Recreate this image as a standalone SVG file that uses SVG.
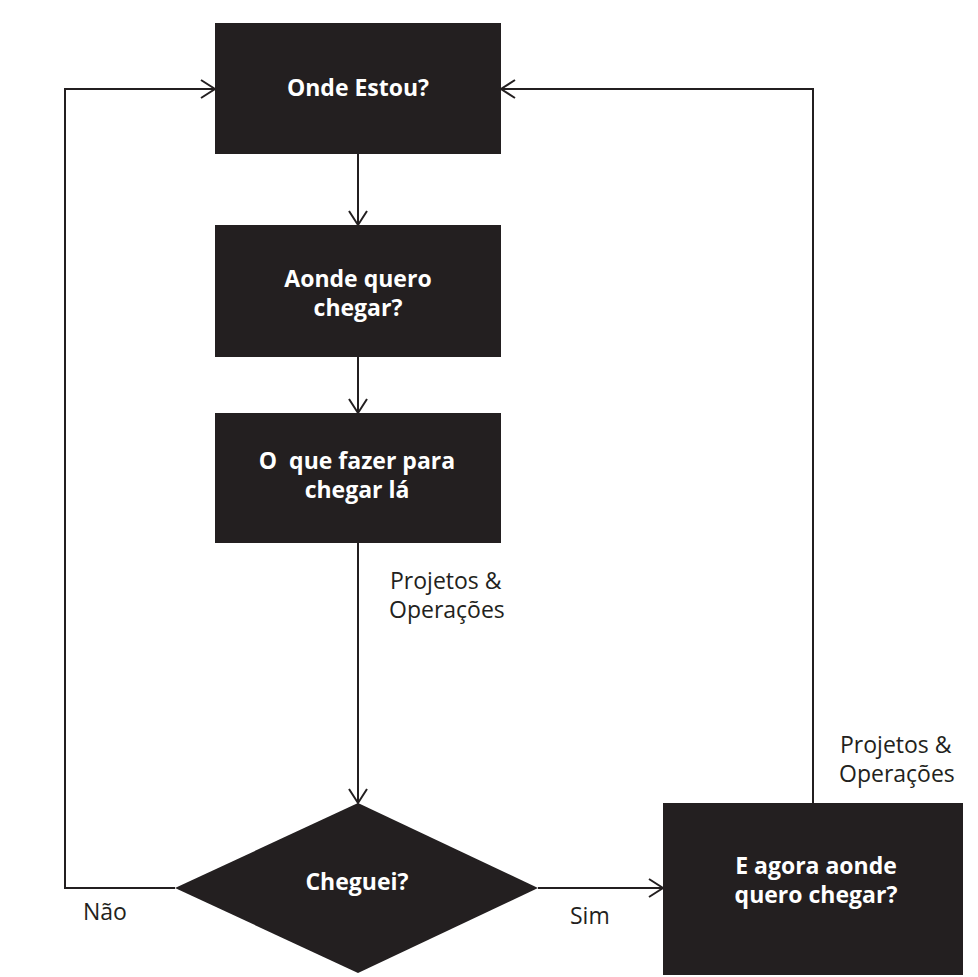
<svg xmlns="http://www.w3.org/2000/svg" width="978" height="977" viewBox="0 0 978 977">
  <style>
    .node { fill: #231f20; }
    .lbl { font-family: "Open Sans", "Liberation Sans", sans-serif; font-weight: bold; font-size: 23px; fill: #ffffff; text-anchor: middle; }
    .note { font-family: "Open Sans", "Liberation Sans", sans-serif; font-size: 23px; fill: #231f20; }
    .edge { fill: none; stroke: #231f20; stroke-width: 2; marker-end: url(#arrow); }
  </style>
  <defs>
    <marker id="arrow" markerUnits="userSpaceOnUse" markerWidth="20" markerHeight="24" viewBox="-16 -12 18 24" refX="0" refY="0" orient="auto">
      <path d="M-14,-9 L0,0 L-14,9" fill="none" stroke="#231f20" stroke-width="2"/>
    </marker>
  </defs>
  <rect width="978" height="977" fill="#ffffff"/>

  <g id="connectors">
    <path class="edge" d="M358,154 L358,225"/>
    <path class="edge" d="M358,357 L358,413"/>
    <path class="edge" d="M358,543 L358,803"/>
    <path class="edge" d="M175,888 L65,888 L65,89 L215,89"/>
    <path class="edge" d="M538,888 L663,888"/>
    <path class="edge" d="M813,803 L813,89 L501,89"/>
    <text class="note" x="390" y="589">Projetos &amp;</text>
    <text class="note" x="389" y="618">Operações</text>
    <text class="note" x="840" y="753">Projetos &amp;</text>
    <text class="note" x="839" y="782">Operações</text>
    <text class="note" x="83" y="920">Não</text>
    <text class="note" x="570" y="924">Sim</text>
  </g>

  <g id="onde-estou">
    <rect class="node" x="215" y="23" width="286" height="131"/>
    <text class="lbl" x="358" y="96">Onde Estou?</text>
  </g>

  <g id="aonde-quero-chegar">
    <rect class="node" x="215" y="225" width="286" height="132"/>
    <text class="lbl" x="358" y="287">Aonde quero</text>
    <text class="lbl" x="358" y="316">chegar?</text>
  </g>

  <g id="o-que-fazer">
    <rect class="node" x="215" y="413" width="286" height="130"/>
    <text class="lbl" x="357" y="469" xml:space="preserve">O  que fazer para</text>
    <text class="lbl" x="357" y="498">chegar lá</text>
  </g>

  <g id="cheguei">
    <polygon class="node" points="358,803 538,888 358,973 175,888"/>
    <text class="lbl" x="357" y="890">Cheguei?</text>
  </g>

  <g id="e-agora">
    <rect class="node" x="663" y="803" width="300" height="172"/>
    <text class="lbl" x="816" y="874">E agora aonde</text>
    <text class="lbl" x="816" y="903">quero chegar?</text>
  </g>
</svg>
